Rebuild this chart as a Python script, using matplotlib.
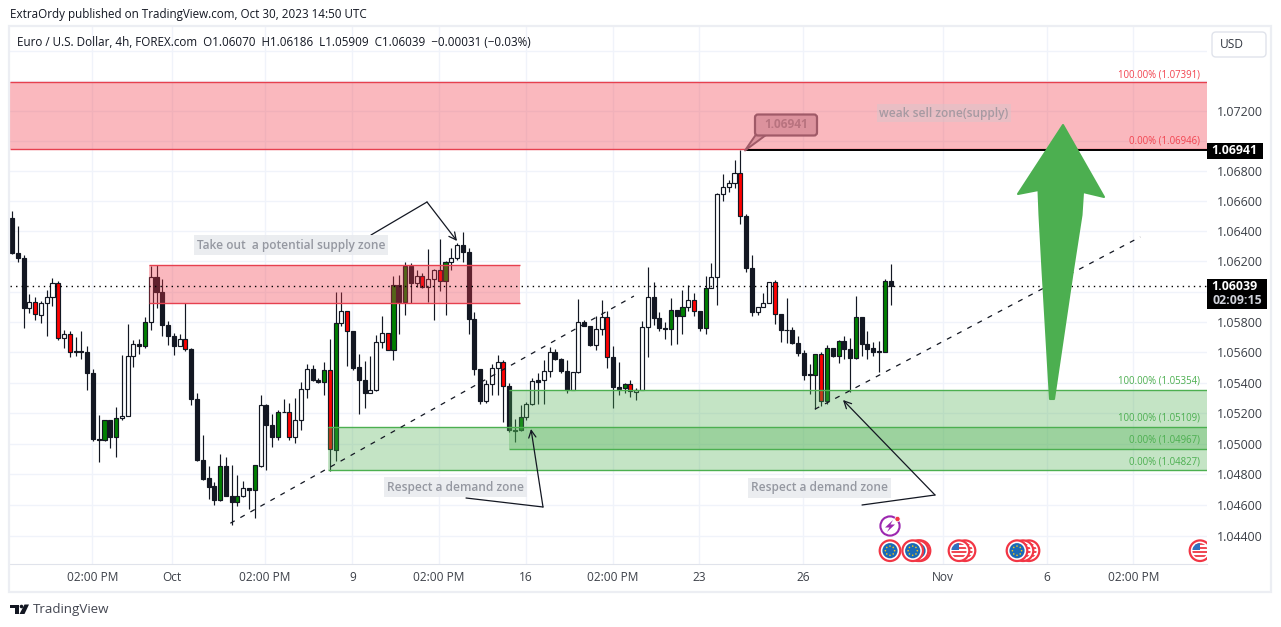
import numpy as np
import matplotlib
matplotlib.use('Agg')
import matplotlib.pyplot as plt
from matplotlib.patches import Rectangle, Circle, Polygon, FancyBboxPatch

plt.rcParams['font.family'] = ['Open Sans', 'DejaVu Sans']

# EURUSD 4h
opens = [1.06489,1.06258,1.06225,1.05895,1.05932,1.05849,1.05928,1.05968,1.06060,1.05697,
 1.05721,1.05607,1.05607,1.05605,1.05466,1.05030,1.05024,1.05156,1.05044,1.05169,
 1.05180,1.05578,1.05657,1.05644,1.05803,1.06100,1.06001,1.05783,1.05710,1.05642,
 1.05690,1.05624,1.05294,1.04892,1.04773,1.04722,1.04634,1.04852,1.04661,1.04619,
 1.04661,1.04714,1.04700,1.04857,1.05255,1.05123,1.05044,1.05211,1.05209,1.05044,
 1.05156,1.05360,1.05492,1.05420,1.05404,1.05486,1.04961,1.05791,1.05872,1.05740,
 1.05505,1.05417,1.05331,1.05351,1.05668,1.05727,1.05615,1.06044,1.05929,1.06171,
 1.06057,1.06103,1.06031,1.06083,1.06143,1.06068,1.06196,1.06222,1.06308,1.06262,
 1.05819,1.05489,1.05283,1.05390,1.05496,1.05536,1.05377,1.05089,1.05087,1.05173,
 1.05258,1.05417,1.05415,1.05476,1.05602,1.05555,1.05476,1.05353,1.05470,1.05800,
 1.05773,1.05648,1.05753,1.05833,1.05569,1.05371,1.05364,1.05390,1.05340,1.05355,
 1.05767,1.05966,1.05824,1.05760,1.05751,1.05879,1.05837,1.05899,1.05946,1.05873,
 1.05758,1.06025,1.06098,1.06649,1.06695,1.06721,1.06788,1.06503,1.06158,1.05864,
 1.05899,1.05926,1.06065,1.05853,1.05749,1.05747,1.05661,1.05594,1.05455,1.05451,
 1.05588,1.05283,1.05627,1.05579,1.05674,1.05621,1.05561,1.05833,1.05654,1.05627,
 1.05608,1.05601,1.06070]
closes = [1.06254,1.06225,1.05895,1.05932,1.05851,1.05928,1.05968,1.06060,1.05697,1.05721,
 1.05605,1.05602,1.05602,1.05466,1.05030,1.05024,1.05156,1.05044,1.05167,1.05182,
 1.05578,1.05657,1.05644,1.05803,1.06100,1.06001,1.05783,1.05710,1.05642,1.05690,
 1.05624,1.05294,1.04892,1.04771,1.04718,1.04634,1.04852,1.04661,1.04619,1.04661,
 1.04714,1.04700,1.04859,1.05255,1.05123,1.05044,1.05209,1.05206,1.05044,1.05156,
 1.05360,1.05492,1.05418,1.05404,1.05486,1.04964,1.05793,1.05872,1.05740,1.05500,
 1.05415,1.05331,1.05351,1.05668,1.05727,1.05615,1.06044,1.05929,1.06171,1.06057,
 1.06103,1.06031,1.06083,1.06143,1.06068,1.06196,1.06222,1.06308,1.06262,1.05819,
 1.05489,1.05283,1.05390,1.05496,1.05536,1.05377,1.05087,1.05085,1.05173,1.05258,
 1.05410,1.05408,1.05476,1.05602,1.05555,1.05474,1.05353,1.05470,1.05800,1.05773,
 1.05648,1.05753,1.05833,1.05569,1.05371,1.05362,1.05393,1.05349,1.05351,1.05767,
 1.05966,1.05824,1.05758,1.05753,1.05879,1.05837,1.05899,1.05946,1.05871,1.05758,
 1.06025,1.06098,1.06649,1.06695,1.06721,1.06788,1.06503,1.06158,1.05864,1.05899,
 1.05926,1.06065,1.05853,1.05747,1.05745,1.05661,1.05594,1.05453,1.05451,1.05588,
 1.05283,1.05627,1.05579,1.05674,1.05619,1.05561,1.05833,1.05652,1.05625,1.05605,
 1.05601,1.06069,1.06039]
highs = [1.06535,1.06438,1.06243,1.05987,1.05968,1.05939,1.06012,1.06093,1.06069,1.05745,
 1.05741,1.05704,1.05743,1.05640,1.05492,1.05191,1.05158,1.05158,1.05242,1.05580,
 1.05789,1.05679,1.05686,1.05836,1.06170,1.06174,1.06082,1.05807,1.05730,1.05719,
 1.05924,1.05631,1.05330,1.05059,1.04854,1.04751,1.04931,1.04912,1.04859,1.04795,
 1.04755,1.04714,1.04861,1.05319,1.05259,1.05198,1.05220,1.05294,1.05264,1.05303,
 1.05404,1.05521,1.05514,1.05433,1.05539,1.05686,1.05998,1.05998,1.05872,1.05740,
 1.05588,1.05540,1.05577,1.05716,1.05839,1.05727,1.06101,1.06110,1.06196,1.06189,
 1.06141,1.06123,1.06284,1.06149,1.06350,1.06204,1.06288,1.06321,1.06394,1.06288,
 1.05866,1.05489,1.05419,1.05522,1.05582,1.05551,1.05397,1.05162,1.05252,1.05276,
 1.05430,1.05463,1.05551,1.05632,1.05621,1.05562,1.05551,1.05472,1.05951,1.05815,
 1.05775,1.05837,1.05947,1.05870,1.05643,1.05536,1.05397,1.05419,1.05364,1.05804,
 1.06165,1.06065,1.05868,1.05802,1.05955,1.05879,1.06014,1.06041,1.05988,1.05875,
 1.06103,1.06191,1.06651,1.06783,1.06737,1.06876,1.06941,1.06516,1.06244,1.05899,
 1.05992,1.06065,1.06074,1.05853,1.05959,1.05767,1.05709,1.05616,1.05524,1.05590,
 1.05605,1.05650,1.05627,1.05683,1.05705,1.05694,1.05974,1.05835,1.05742,1.05667,
 1.05676,1.06085,1.06186]
lows = [1.06247,1.06196,1.05759,1.05858,1.05814,1.05792,1.05708,1.05906,1.05682,1.05627,
 1.05570,1.05576,1.05554,1.05352,1.05015,1.04883,1.05019,1.04975,1.04916,1.05158,
 1.05180,1.05503,1.05589,1.05629,1.05748,1.05891,1.05708,1.05646,1.05583,1.05642,
 1.05609,1.05253,1.04887,1.04766,1.04641,1.04599,1.04626,1.04656,1.04472,1.04593,
 1.04652,1.04571,1.04513,1.04850,1.04828,1.04980,1.05026,1.05206,1.05022,1.05008,
 1.05088,1.05297,1.05411,1.05396,1.05319,1.04825,1.04887,1.05775,1.05507,1.05481,
 1.05195,1.05232,1.05331,1.05349,1.05626,1.05615,1.05547,1.05723,1.05848,1.05925,
 1.06028,1.06026,1.05934,1.05815,1.06002,1.05848,1.06145,1.06207,1.06198,1.05723,
 1.05448,1.05261,1.05265,1.05320,1.05320,1.05142,1.05078,1.05012,1.05082,1.05155,
 1.05254,1.05261,1.05261,1.05441,1.05551,1.05463,1.05335,1.05353,1.05467,1.05771,
 1.05639,1.05617,1.05714,1.05496,1.05236,1.05320,1.05331,1.05309,1.05287,1.05353,
 1.05566,1.05782,1.05740,1.05685,1.05650,1.05658,1.05723,1.05871,1.05842,1.05738,
 1.05718,1.06025,1.05915,1.06600,1.06660,1.06684,1.06445,1.06129,1.05837,1.05848,
 1.05897,1.05926,1.05789,1.05665,1.05661,1.05658,1.05577,1.05418,1.05329,1.05225,
 1.05245,1.05263,1.05568,1.05528,1.05555,1.05340,1.05557,1.05579,1.05557,1.05577,
 1.05473,1.05599,1.05909]
body_types = list('kkkwrwwwrw' 'rkkkkkgkgw' 'wwkgwkkkkw' 'rkkkkkgkkg' 'wkgwkkgkrw'
                  'wwkkgrgwrk' 'kkwwwrgkgk' 'wrwwrgwwkk' 'kkwwwrkkgw' 'wkwwkkkwwk'
                  'kwwrkkgrww' 'wkkkgkgwrk' 'gwwwwwrkkw' 'wwrkkkkkkg' 'rgkgkkgkkk' 'kgk')

price_ticks = [1.044,1.046,1.048,1.05,1.052,1.054,1.056,1.058,1.06,1.062,1.064,1.066,1.068,1.07,1.072,1.074,1.076]
price_labels = ['1.04400','1.04600','1.04800','1.05000','1.05200','1.05400','1.05600','1.05800','','1.06200',
                '1.06400','1.06600','1.06800','','1.07200','','']
time_ticks = [13.9,27.7,43.8,58.9,73.9,88.9,103.9,118.9,136.9,161.0,179.0,194.0]
time_labels = ['02:00 PM','Oct','02:00 PM','9','02:00 PM','16','02:00 PM','23','26','Nov','6','02:00 PM']

# fib zones: left bar, right bar, low price, high price
red_zones = [(-0.35,206.75,1.06946,1.07391),(23.75,87.94,1.05926,1.06177)]
green_zones = [(54.7,206.75,1.04827,1.05109),(85.9,206.75,1.04967,1.05354)]
trend_x = [(37.77,107.6),(138.9,195.2)]
trend_y = [(1.04481,1.05971),(1.05226,1.06362)]
last_close = 1.06039
last_high = 1.06941
high_line_start = 127.0

dark = '#131722'
colmap = {'k':dark,'w':'#ffffff','g':'#008000','r':'#ff0000'}
W,H = 1281,627
fig = plt.figure(figsize=(W/100,H/100),dpi=100,facecolor='white')

# chart pane spans 10..1207 x 27..564 in pixels
ax = fig.add_axes([10/W,1-564/H,(1207-10)/W,(564-27)/H])
ax.set_yscale('log')
ax.set_xlim(-0.35,206.75)
ax.set_ylim(1.04216,1.07763)
ax.minorticks_off()
ax.set_yticks(price_ticks,price_labels)
ax.set_xticks(time_ticks,time_labels)
ax.yaxis.tick_right()
ax.yaxis.set_minor_locator(matplotlib.ticker.NullLocator())
ax.tick_params(axis='y',length=0,pad=7,labelsize=8.9,labelcolor='#3c4048')
ax.tick_params(axis='x',length=0,pad=5,labelsize=8.6,labelcolor='#3c4048')
ax.grid(True,color='#f0f3fa',lw=1)
ax.set_axisbelow(True)
for s in ax.spines.values():
    s.set_visible(False)
ax.spines['bottom'].set_visible(True)
ax.spines['bottom'].set_color('#e0e3eb')

idx = np.arange(len(opens))
o = np.array(opens); c = np.array(closes)
ax.vlines(idx,lows,highs,color=dark,lw=0.85,zorder=2)
ax.bar(idx,np.abs(c-o),bottom=np.minimum(o,c),width=0.7,color=[colmap[t] for t in body_types],
       edgecolor=dark,linewidth=0.85,zorder=3)

for x0,x1,lo,hi in red_zones:
    ax.add_patch(Rectangle((x0,lo),x1-x0,hi-lo,fc=(0.949,0.212,0.271,0.35),ec='none',zorder=4))
    ax.hlines([lo,hi],x0,x1,color='#e6404f',lw=1,zorder=4)
for x0,x1,lo,hi in green_zones:
    ax.add_patch(Rectangle((x0,lo),x1-x0,hi-lo,fc=(0.298,0.686,0.314,0.33),ec='none',zorder=4))
    ax.hlines([lo,hi],x0,x1,color='#4caf50',lw=1,zorder=4)
for xs,ys in zip(trend_x,trend_y):
    ax.plot(xs,ys,color=dark,lw=0.9,dashes=(4,5.2),zorder=5)
ax.plot([-0.35,206.75],[last_close,last_close],color='black',lw=1,dashes=(1,3),zorder=5)
ax.plot([high_line_start,206.75],[last_high,last_high],color='black',lw=1.4,zorder=5)

# overlay in pixels for TradingView furniture and hand drawn objects
ov = fig.add_axes([0,0,1,1],zorder=5)
ov.set_xlim(0,W); ov.set_ylim(H,0); ov.axis('off'); ov.patch.set_alpha(0)

ov.add_patch(Rectangle((9,26),1261.5,565.5,fc='none',ec='#eceef3',lw=1.6))
ov.text(10,14.5,'ExtraOrdy published on TradingView.com, Oct 30, 2023 14:50 UTC',fontsize=8.33,color=dark,va='center')
ov.text(17,42,'Euro / U.S. Dollar, 4h, FOREX.com  O1.06070  H1.06186  L1.05909  C1.06039  \u22120.00031 (\u22120.03%)',
        fontsize=8.42,color=dark,va='center')
ov.add_patch(FancyBboxPatch((1213,33),52,23,boxstyle='round,pad=1,rounding_size=4',fc='white',ec='#e0e3eb',lw=1))
ov.text(1220,45,'USD',fontsize=8.6,color='#333842',va='center')

# price badges
ov.add_patch(Rectangle((1207,142.5),56,16.5,fc='black',ec='none'))
ov.text(1257,151,'1.06941',color='white',fontsize=8.9,fontweight='bold',ha='right',va='center')
ov.add_patch(Rectangle((1207,278.5),60,30.5,fc='black',ec='none'))
ov.text(1257,286.5,'1.06039',color='white',fontsize=8.9,fontweight='bold',ha='right',va='center')
ov.text(1262,300.5,'02:09:15',color='#d1d4dc',fontsize=8.9,fontweight='bold',ha='right',va='center')

# fib labels
red_lab = '#f2434f'
green_lab = '#4caf50'
for y,s,col in [(75,'100.00% (1.07391)',red_lab),(141,'0.00% (1.06946)',red_lab),
                (381,'100.00% (1.05354)',green_lab),(418.5,'100.00% (1.05109)',green_lab),
                (440.5,'0.00% (1.04967)',green_lab),(461.5,'0.00% (1.04827)',green_lab)]:
    ov.text(1200,y,s,color=col,fontsize=6.9,ha='right',va='center')

# text notes
note_box = dict(fc='#e9ebef',ec='none',pad=2.2,alpha=0.9)
for x,y,s in [(291,245,'Take out  a potential supply zone'),(455.5,487,'Respect a demand zone'),(819.5,488,'Respect a demand zone')]:
    ov.text(x,y,s,color='#9598a1',fontsize=8.6,fontweight='semibold',ha='center',va='center',bbox=note_box)
ov.text(944,113,'weak sell zone(supply)',color='#a79aa2',fontsize=8.6,fontweight='semibold',ha='center',va='center',
        bbox=dict(fc=(0.8,0.8,0.82,0.35),ec='none',pad=2))

# callout on the high
ov.add_patch(Polygon([(745,150.5),(757,133),(766,135)],fc='#dc929d',ec='#a05a68',lw=1.4,joinstyle='round'))
ov.add_patch(FancyBboxPatch((756,115.5),60,19,boxstyle='round,pad=1,rounding_size=3',fc='#dc929d',ec='#a05a68',lw=1.6))
ov.text(786,124.5,'1.06941',color='#b8737f',fontsize=8.6,fontweight='bold',ha='center',va='center')

# hand drawn arrows
for pts in [[(371,235),(427,202),(457,241)],[(466,498),(543,507),(531,429)],[(862,505),(935,495),(843,400)]]:
    ov.plot([p[0] for p in pts[:2]],[p[1] for p in pts[:2]],color=dark,lw=0.9,solid_capstyle='round')
    ov.annotate('',xy=pts[2],xytext=pts[1],arrowprops=dict(arrowstyle='->',color=dark,lw=0.9,mutation_scale=13,shrinkA=0,shrinkB=0))

# big green arrow
ov.add_patch(Polygon([(1063,125),(1104,197),(1083,192),(1081.5,215),(1073,270),(1054,399),(1050,399),
                      (1042.5,270),(1039.5,215),(1038.5,190),(1018,194)],
                     fc='#4caf50',ec='#4caf50',lw=1.5,joinstyle='round'))

# bottom event markers
clip = Rectangle((10,27),1197,537,transform=ov.transData)
def marker(cx,kind):
    cy = 550.7
    parts = [Circle((cx,cy),10.3,fc='white',ec='#f23645',lw=1.6)]
    if kind=='eu':
        parts.append(Circle((cx,cy),7.6,fc='#1b6ab5',ec='none'))
        for a in np.arange(0,360,45):
            parts.append(Circle((cx+4.6*np.cos(np.radians(a)),cy+4.6*np.sin(np.radians(a))),0.8,fc='#f5c518',ec='none'))
    else:
        for k in range(4):
            parts.append(Rectangle((cx-8,cy-7.6+k*4),16,2,fc='#ef4a55',ec='none'))
        parts.append(Rectangle((cx-8,cy-8),8,7.5,fc='#2f6fc0',ec='none'))
    for p in parts:
        ov.add_patch(p)
        if kind!='eu' and not isinstance(p,Circle):
            p.set_clip_path(Circle((cx,cy),7.6,transform=ov.transData))
        elif cx>1190:
            p.set_clip_path(clip)
for cx,kind in [(920,'eu'),(918,'eu'),(912.7,'eu'),(890,'eu'),(965,'us'),(959,'us'),(1029,'us'),(1023,'us'),(1017,'eu'),(1200,'us')]:
    marker(cx,kind)
ov.add_patch(Rectangle((1207,535),12,27,fc='white',ec='none',zorder=3))

# earnings-like bolt
ov.add_patch(Circle((890,526),9.6,fc='white',ec='#9c27b0',lw=1.5))
ov.add_patch(Polygon([(893,520),(885,527.5),(889.5,527.5),(887,532),(895,524.5),(890.5,524.5)],fc='#9c27b0',ec='none'))
ov.add_patch(Circle((897.5,519),2.6,fc='#f23645',ec='white',lw=0.5))

# logo
ov.add_patch(Polygon([(10,604.5),(19,604.5),(19,614),(14.5,614),(14.5,608),(10,608)],fc='#131722',ec='none'))
ov.add_patch(Circle((21.5,606.5),1.8,fc='#131722',ec='none'))
ov.add_patch(Polygon([(19.5,614),(24.5,604.5),(29,604.5),(24.5,614)],fc='#131722',ec='none'))
ov.text(33,609.5,'TradingView',fontsize=9.6,color='#434651',va='center')

fig.savefig('out.png',dpi=100)
